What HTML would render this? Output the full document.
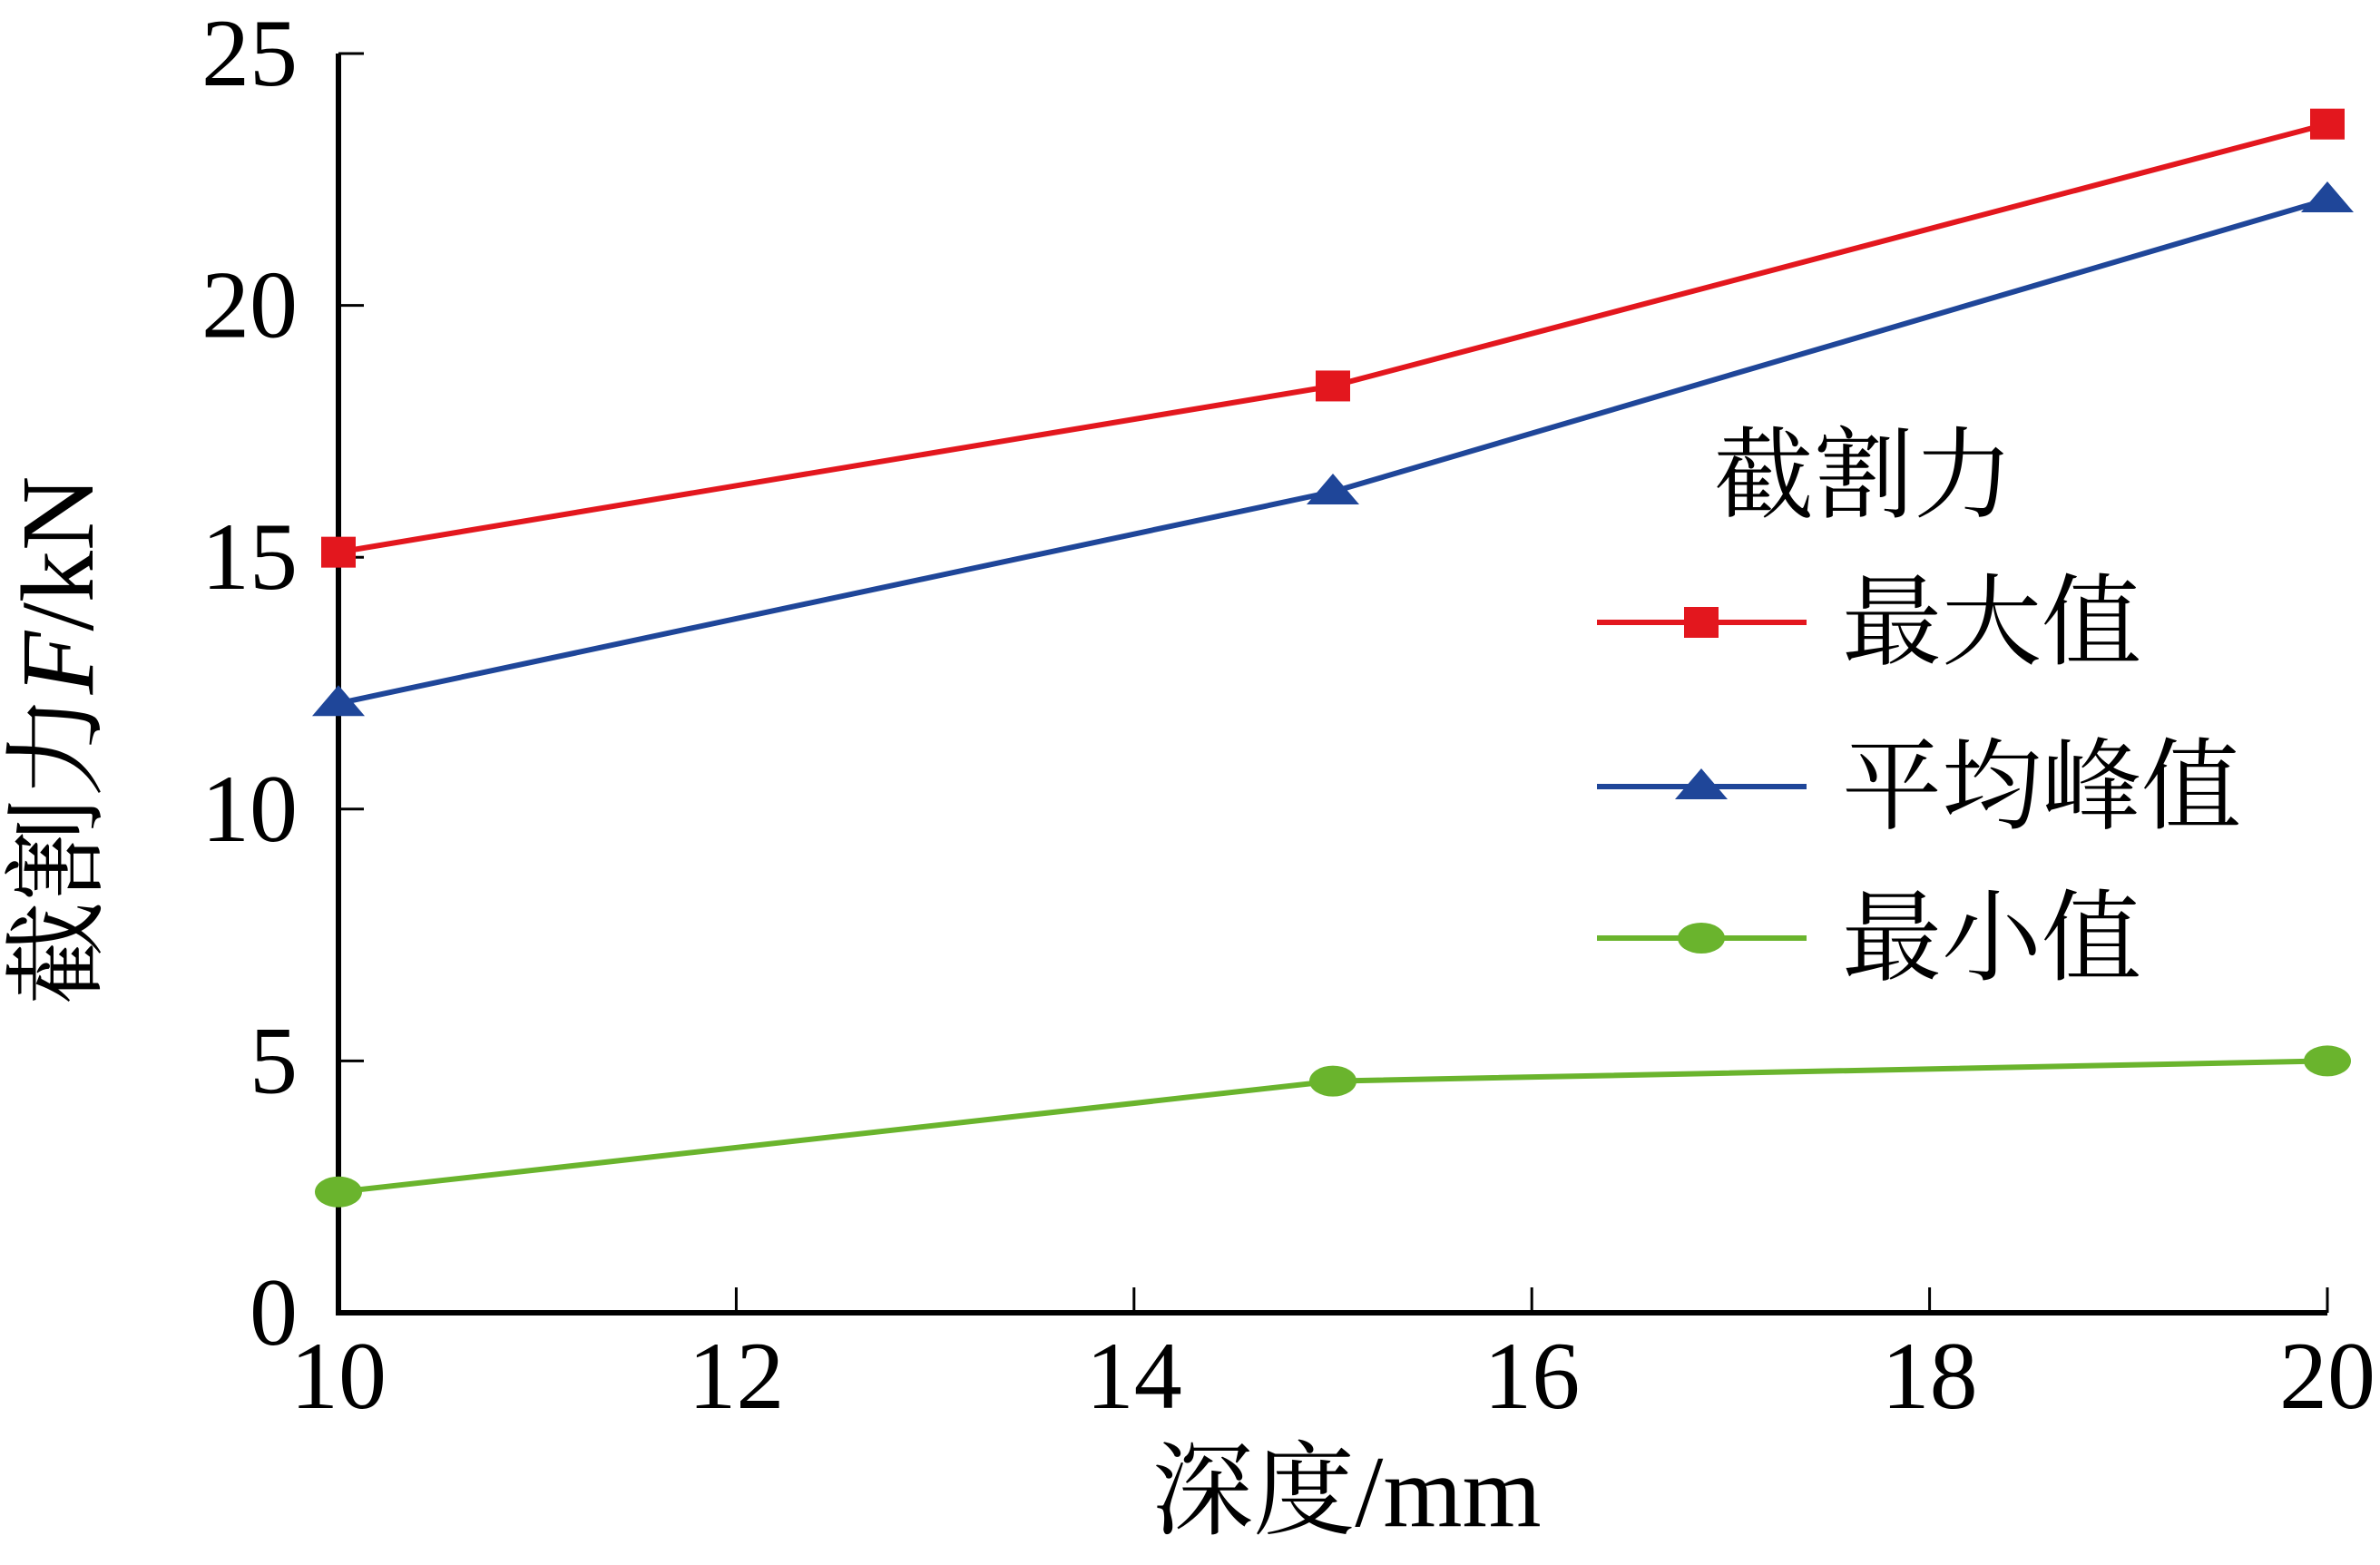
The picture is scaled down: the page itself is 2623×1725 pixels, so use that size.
<!DOCTYPE html>
<html><head><meta charset="utf-8"><style>
html,body{margin:0;padding:0;background:#fff;}
svg text{font-family:"Liberation Serif","Noto Serif CJK SC","Noto Sans CJK SC",serif;fill:#000;}
</style></head><body>
<svg id="chart" width="2623" height="1720" viewBox="0 0 2623 1720" xmlns="http://www.w3.org/2000/svg">
<g id="axes"></g><g id="series"></g><g id="legend"></g>
</svg>
<script>
const categories = [10, 15, 20];
const maxValues = [15.1, 18.4, 23.6];
const avgPeakValues = [12.1, 16.3, 22.1];
const minValues = [2.4, 4.6, 5.0];
const xTicks = [10, 12, 14, 16, 18, 20];
const yTicks = [0, 5, 10, 15, 20, 25];

const NS = "http://www.w3.org/2000/svg";
const X0 = 373, X1 = 2565, Y0 = 1447, Y1 = 59;
function xs(v){ return X0 + (v - 10) / 10 * (X1 - X0); }
function ys(v){ return Y0 - v / 25 * (Y0 - Y1); }
function mk(tag, attrs, parent, text){
  const e = document.createElementNS(NS, tag);
  for (const k in attrs) e.setAttribute(k, attrs[k]);
  if (text !== undefined) e.textContent = text;
  parent.appendChild(e); return e;
}
const axes = document.getElementById('axes');
const series = document.getElementById('series');
const legend = document.getElementById('legend');

let el = mk('line', {x1:X0, y1:Y1, x2:X0, y2:Y0, stroke:'#000', 'stroke-width':6}, axes);


el = mk('line', {x1:X0-3, y1:Y0, x2:X1, y2:Y0, stroke:'#000', 'stroke-width':6}, axes);



yTicks.forEach(t => {
  const y = ys(t);
  if (t > 0) {
    const tk = mk('line', {x1:X0, y1:y, x2:X0+28, y2:y, stroke:'#000', 'stroke-width':3}, axes);
    
    
  }
  const lb = mk('text', {x:328, y:y+35, 'text-anchor':'end', 'font-size':106}, axes, String(t));
  
  
});
xTicks.forEach(t => {
  const x = xs(t);
  if (t > 10) {
    const tk = mk('line', {x1:x, y1:Y0, x2:x, y2:Y0-28, stroke:'#000', 'stroke-width':3}, axes);
    
    
  }
  const lb = mk('text', {x:x, y:1552, 'text-anchor':'middle', 'font-size':106}, axes, String(t));
  
  
});
el = mk('text', {x:1484, y:1682, 'text-anchor':'middle', 'font-size':112}, axes, '深度/mm');


el = mk('text', {x:0, y:0, 'text-anchor':'middle', 'font-size':114, transform:'translate(102,816) rotate(-90)'}, axes);


el.innerHTML = '截割力<tspan font-style="italic">F</tspan>/kN';

function marker(type, x, y, color, parent){
  let m;
  if (type === 'square') m = mk('rect', {x:x-19, y:y-17, width:38, height:34, fill:color}, parent);
  else if (type === 'triangle') m = mk('polygon', {points:`${x},${y-20} ${x+29},${y+14} ${x-29},${y+14}`, fill:color}, parent);
  else m = mk('ellipse', {cx:x, cy:y, rx:26, ry:17, fill:color}, parent);
  return m;
}
const seriesDefs = [
  {name:'最大值', vals:maxValues, color:'#e3171e', m:'square', key:'max', ly:686},
  {name:'平均峰值', vals:avgPeakValues, color:'#1f4699', m:'triangle', key:'avg-peak', ly:867},
  {name:'最小值', vals:minValues, color:'#6ab42d', m:'circle', key:'min', ly:1034}
];
seriesDefs.forEach(s => {
  const pts = s.vals.map((v,i) => `${xs(categories[i])},${ys(v)}`).join(' ');
  const pl = mk('polyline', {points:pts, fill:'none', stroke:s.color, 'stroke-width':6}, series);
  
  
  s.vals.forEach((v,i) => {
    const m = marker(s.m, xs(categories[i]), ys(v), s.color, series);
    
    
  });
  const g = mk('g', {}, legend);
  
  
  mk('line', {x1:1760, y1:s.ly, x2:1991, y2:s.ly, stroke:s.color, 'stroke-width':6}, g);
  marker(s.m, 1875, s.ly, s.color, g);
  mk('text', {x:2030, y:s.ly+38, 'font-size':110}, g, s.name);
});
el = mk('text', {x:2054, y:562, 'text-anchor':'middle', 'font-size':110}, legend, '截割力');


</script>
</body></html>
